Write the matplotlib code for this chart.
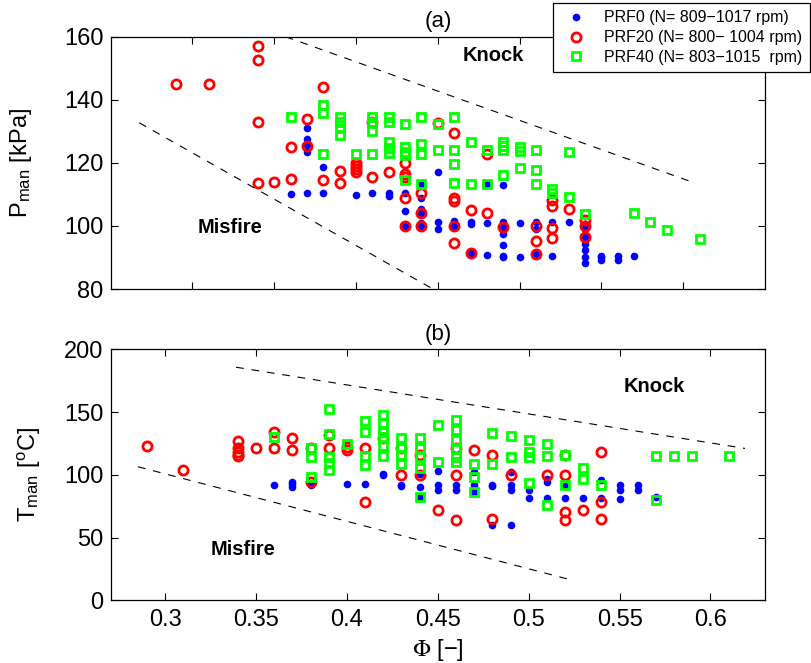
import numpy as np
import matplotlib
matplotlib.use("Agg")
import matplotlib.pyplot as plt

plt.rcParams['font.family'] = ['Liberation Sans', 'DejaVu Sans']
plt.rcParams['mathtext.fontset'] = 'stix'

# --- data: {phi: [values]} ---
# (a) manifold pressure [kPa]
p_prf0 = {
    0.36: [110], 0.37: [131, 127.5, 125.6, 123.5, 110.5], 0.38: [118.7, 110.5],
    0.40: [109.7], 0.41: [110.3], 0.42: [110.3, 109.5], 0.43: [110.3, 104.6, 100],
    0.44: [113.2, 108.7, 105.5, 104, 101, 100], 0.45: [117.1, 101.3, 98.9],
    0.46: [101.5, 100], 0.47: [101.2, 100.6, 91.3], 0.48: [113.4, 101, 90.9],
    0.49: [112.9, 101.3, 99.7, 97.6, 94.1, 90.6, 90], 0.50: [101, 90.3],
    0.51: [101.3, 99, 91.2], 0.52: [101.3, 90.6], 0.53: [101.3],
    0.54: [100.5, 99, 96.5, 94.4, 92.3, 90.2, 88.1], 0.55: [90.6, 90, 89.1],
    0.56: [90.6, 89.1], 0.57: [90.6],
}
p_prf20 = {
    0.29: [145], 0.31: [145], 0.34: [157, 152.5, 133, 113.5], 0.35: [114],
    0.36: [115, 125], 0.37: [134, 125.5], 0.38: [144, 114.5], 0.39: [117.5, 113.5],
    0.40: [117, 118, 119, 120], 0.41: [133, 115.5], 0.42: [117],
    0.43: [120, 116.5, 115.5, 108.7, 100], 0.44: [110.5, 104, 100], 0.45: [132.5],
    0.46: [129.6, 109, 108, 100, 94.7], 0.47: [105, 91.4], 0.48: [122.8, 104.1],
    0.49: [99.7], 0.51: [100, 95.1, 91.2], 0.52: [108.2, 106.2, 99.2, 96.3],
    0.53: [105.4], 0.54: [101.8, 100, 96.5],
}
p_prf40 = {
    0.36: [134.6], 0.38: [138.3, 135.9, 122.7], 0.39: [134.6, 133, 130.9, 128.8],
    0.40: [122.7], 0.41: [134.6, 133, 130.1, 122.7],
    0.42: [134.6, 133, 126.7, 124.6, 123.2], 0.43: [132.2, 125.1, 123.5, 122.4, 114.5],
    0.44: [134.6, 126.1, 122.7, 113.2], 0.45: [132.2, 124],
    0.46: [134.6, 124, 119.5, 113.6], 0.47: [126.7, 113.4], 0.48: [124, 113.4],
    0.49: [126.7, 125.3, 124, 116.3], 0.50: [125.1, 123.8, 118.4],
    0.51: [124, 117.7, 113.4], 0.52: [111.6, 110.3], 0.53: [123.5, 109.2],
    0.54: [103.9], 0.57: [104.1], 0.58: [101.3], 0.59: [98.6], 0.61: [96],
}

# (b) manifold temperature [degC]
t_prf0 = {
    0.36: [92], 0.37: [94.5, 92.5, 90.5], 0.38: [91.5, 93], 0.40: [92.3], 0.41: [93],
    0.42: [101, 100], 0.43: [92, 91], 0.44: [101, 90, 82.5], 0.45: [103, 92, 88],
    0.46: [92, 88], 0.47: [102.6, 92, 86], 0.48: [92, 91, 60],
    0.49: [102.6, 92, 88, 60], 0.50: [88, 81.5], 0.51: [97, 94, 81.5],
    0.52: [91, 81.5], 0.53: [81.5], 0.54: [96, 81.5], 0.55: [92, 88, 81],
    0.56: [92, 88], 0.57: [82.5],
}
t_prf20 = {
    0.29: [123], 0.31: [104], 0.34: [127, 121, 118, 116, 115], 0.35: [121],
    0.36: [134, 121], 0.37: [129, 120], 0.38: [121, 94], 0.39: [132, 121],
    0.40: [122, 120], 0.41: [121, 78.5], 0.42: [129], 0.43: [121, 100],
    0.44: [116, 100], 0.45: [72], 0.46: [121, 100, 64], 0.47: [120],
    0.48: [116, 64.4], 0.49: [100], 0.51: [100], 0.52: [116, 100, 70.6, 64],
    0.53: [72], 0.54: [118, 78, 64.4],
}
t_prf40 = {
    0.36: [130], 0.38: [121, 114.4, 98.5], 0.39: [152.3, 132.3, 114, 109, 104],
    0.40: [124.7], 0.41: [143, 134, 115, 108], 0.42: [148, 141, 134, 130, 123, 115],
    0.43: [129, 121, 116, 108.5], 0.44: [129, 121, 114, 105, 82.5],
    0.45: [139.6, 110.4], 0.46: [143.5, 136, 127.7, 120.5, 114.4, 110],
    0.47: [108.6, 98.5, 86.5], 0.48: [133.4, 108.6], 0.49: [130.9, 114.4],
    0.50: [127.7, 117.9, 114.4, 93.7], 0.51: [124.7, 115, 75.6], 0.52: [116, 92],
    0.53: [105.6, 96.6], 0.54: [92], 0.57: [115, 80], 0.58: [115], 0.59: [115],
    0.61: [115],
}

# knock / misfire boundary lines (phi, value)
knock_a = ([0.357, 0.605], [160, 114])
misfire_a = ([0.2675, 0.447], [132.7, 80])
knock_b = ([0.339, 0.619], [185.7, 121])
misfire_b = ([0.285, 0.524], [106.4, 16])

labels = ['PRF0 (N= 809\u22121017 rpm)',
          'PRF20 (N= 800\u2212 1004 rpm)',
          'PRF40 (N= 803\u22121015  rpm)']


def unpack(d):
    x, y = [], []
    for phi, vals in d.items():
        x += [phi] * len(vals)
        y += vals
    return np.array(x), np.array(y)


def draw_series(ax, s0, s20, s40):
    x, y = unpack(s0)
    h0, = ax.plot(x, y, 'o', color='#0000ff', ms=5.5, mew=0, linestyle='none')
    x, y = unpack(s20)
    h20, = ax.plot(x, y, 'o', mfc='none', mec='#ff0000', ms=6.6, mew=2.0, linestyle='none')
    x, y = unpack(s40)
    h40, = ax.plot(x, y, 's', mfc='none', mec='#00ff00', ms=5.6, mew=2.0, linestyle='none')
    return [h0, h20, h40]


def style_axes(ax):
    ax.tick_params(direction='in', top=True, right=True, length=5, width=0.8,
                   labelsize=17)
    ax.tick_params(axis='x', pad=6)
    ax.tick_params(axis='y', pad=5)
    for sp in ax.spines.values():
        sp.set_linewidth(0.9)


fig = plt.figure(figsize=(8.12, 6.63), dpi=100)
ax1 = fig.add_axes([0.1363, 0.5641, 0.8058, 0.3805])
ax2 = fig.add_axes([0.1363, 0.0946, 0.8058, 0.3786])

# (a) pressure
handles = draw_series(ax1, p_prf0, p_prf20, p_prf40)
ax1.plot(*knock_a, color='k', lw=0.8, dashes=(7, 7))
ax1.plot(*misfire_a, color='k', lw=0.8, dashes=(7, 7))
ax1.set_xlim(0.25, 0.65)
ax1.set_ylim(80, 160)
ax1.set_xticks(np.arange(0.3, 0.61, 0.05))
ax1.set_xticklabels([])
ax1.set_yticks(np.arange(80, 161, 20))
ax1.text(0.4837, 154.2, 'Knock', fontsize=14.5, fontweight='bold', ha='center', va='center')
ax1.text(0.3232, 99.5, 'Misfire', fontsize=14.5, fontweight='bold', ha='center', va='center')
ax1.set_title('(a)', fontsize=16, pad=7)
ax1.set_ylabel(r'P$_{\mathregular{man}}$ [kPa]', fontsize=17)
ax1.yaxis.set_label_coords(-0.117, 0.5)
style_axes(ax1)

# (b) temperature
draw_series(ax2, t_prf0, t_prf20, t_prf40)
ax2.plot(*knock_b, color='k', lw=0.8, dashes=(7, 7))
ax2.plot(*misfire_b, color='k', lw=0.8, dashes=(7, 7))
ax2.set_xlim(0.27, 0.63)
ax2.set_ylim(0, 200)
ax2.set_xticks(np.arange(0.3, 0.61, 0.05))
ax2.set_xticklabels(['0.3', '0.35', '0.4', '0.45', '0.5', '0.55', '0.6'])
ax2.set_yticks(np.arange(0, 201, 50))
ax2.text(0.5689, 170.2, 'Knock', fontsize=14.5, fontweight='bold', ha='center', va='center')
ax2.text(0.3427, 40.5, 'Misfire', fontsize=14.5, fontweight='bold', ha='center', va='center')
ax2.set_title('(b)', fontsize=16, pad=7)
ax2.set_ylabel(r'T$_{\mathregular{man}}$ [$\mathregular{^o}$C]', fontsize=17)
ax2.yaxis.set_label_coords(-0.104, 0.5)
ax2.set_xlabel('$\\Phi$ [\u2212]', fontsize=17)
ax2.xaxis.set_label_coords(0.5, -0.145)
style_axes(ax2)

leg = fig.legend(handles, labels, loc='lower left', bbox_to_anchor=(0.681, 0.891),
                 fontsize=11.5, frameon=True, fancybox=False, framealpha=1,
                 edgecolor='k', borderpad=0.45, labelspacing=0.3,
                 handlelength=2.0, handletextpad=0.75, borderaxespad=0)
leg.get_frame().set_linewidth(0.9)

fig.savefig('out.png', dpi=100)
